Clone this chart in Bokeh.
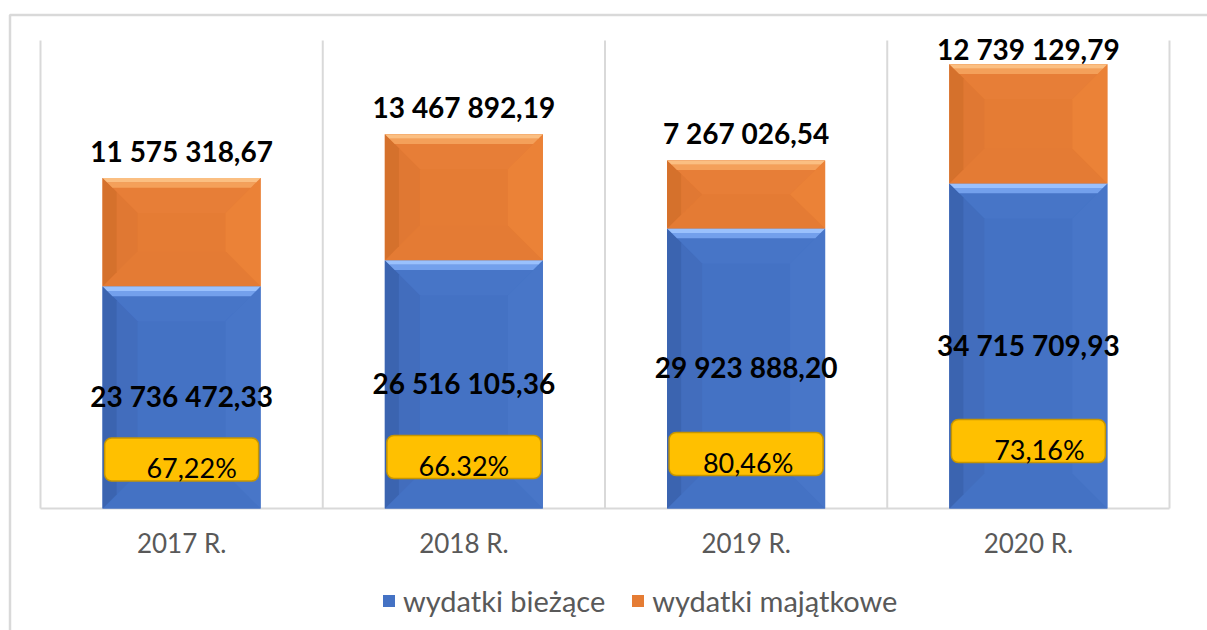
from bokeh.plotting import figure
from bokeh.models import Range1d, ColumnDataSource, Legend, LegendItem
from bokeh.embed import file_html
from bokeh.resources import INLINE
from bokeh.core.properties import value

# ---------------- data ----------------
years = ["2017 R.", "2018 R.", "2019 R.", "2020 R."]
wydatki_biezace = [23736472.33, 26516105.36, 29923888.20, 34715709.93]
wydatki_majatkowe = [11575318.67, 13467892.19, 7267026.54, 12739129.79]
biezace_labels = ["23 736 472,33", "26 516 105,36", "29 923 888,20", "34 715 709,93"]
majatkowe_labels = ["11 575 318,67", "13 467 892,19", "7 267 026,54", "12 739 129,79"]
pct_labels = ["67,22%", "66.32%", "80,46%", "73,16%"]
series_names = ["wydatki bieżące", "wydatki majątkowe"]

# ---------------- layout constants (pixels) ----------------
W, H = 1207, 630
L, R, T, B = 40, 1169, 40, 508      # inner plot area on the canvas
Y_MAX = 50_000_000
N = len(years)
PPU = (B - T) / Y_MAX               # px per data unit (y)
UPX = (R - L) / N                   # px per category (x)
BAR_W = 158 / UPX
BEVEL_PX = 35
FONT = value("Lato")
FIX = 0.4                            # baseline correction (fraction of font size)

# manually placed percentage boxes (px above baseline of box centre, text x shift)
pct_box_h_px = [49, 51.5, 54.5, 67.5]
pct_text_dx_px = [10, 0, 2, 11]


def dy(px):
    return px / PPU


def dx(px):
    return px / UPX


def ybase(page_y, fs):
    """data y for an alphabetic baseline at a page y position"""
    return (B - (page_y - FIX * fs)) / PPU


centers = [i + 0.5 for i in range(N)]

p = figure(width=W, height=H,
           x_range=Range1d(-L / UPX, N + (W - R) / UPX),
           y_range=Range1d(-(H - B) / PPU, Y_MAX + T / PPU),
           x_axis_location=None, y_axis_location=None,
           toolbar_location=None, output_backend="svg",
           min_border_left=0, min_border_right=0, min_border_top=0, min_border_bottom=0)
p.outline_line_color = None
p.background_fill_color = "white"
p.border_fill_color = "white"
p.xgrid.visible = False
p.ygrid.visible = False

# outer chart border (top / left, the rest is cropped)
ox = -(L - 9.5) / UPX
oy = Y_MAX + (T - 14.5) / PPU
p.line(x=[ox, ox, N + (W + 5 - R) / UPX], y=[-(H + 5 - B) / PPU, oy, oy],
       line_color="#d9d9d9", line_width=2.5)

# plot area border + vertical gridlines
grid_x = list(range(N + 1))
p.segment(x0=grid_x, x1=grid_x, y0=[0] * len(grid_x), y1=[Y_MAX] * len(grid_x),
          line_color="#d9d9d9", line_width=2)
p.segment(x0=[0], x1=[N], y0=[0], y1=[0], line_color="#d9d9d9", line_width=2)

# ---------------- bars ----------------
tops = [b + m for b, m in zip(wydatki_biezace, wydatki_majatkowe)]
src = ColumnDataSource(dict(x=centers, b=wydatki_biezace, t=tops))
r_blue = p.vbar(x="x", width=BAR_W, bottom=0, top="b", source=src,
                fill_color="#4472c4", line_color=None)
r_orange = p.vbar(x="x", width=BAR_W, bottom="b", top="t", source=src,
                  fill_color="#e57c34", line_color=None)

# bevel effect
styles = {
    "blue": dict(top="#4775c7", left="#426dbd", right="#4876c8", bottom="#4472c4",
                 strip1="#9ac1fd", strip2="#73a0ec", dark="#3b64b0"),
    "orange": dict(top="#e77e37", left="#e07833", right="#eb8237", bottom="#e47b34",
                   strip1="#fbbf82", strip2="#f4a05a", dark="#d5712c"),
}
xs, ys, cols = [], [], []


def add_bevel(x0, x1, y0, y1, st):
    bx = dx(BEVEL_PX)
    by = min(dy(BEVEL_PX), (y1 - y0) / 2)

    def rect(t):
        return x0 + t * bx, x1 - t * bx, y0 + t * by, y1 - t * by

    def side(name, ta, tb, col):
        La, Ra, Ba, Ta = rect(ta)
        Lb, Rb, Bb, Tb = rect(tb)
        if name == "top":
            pts = [(La, Ta), (Ra, Ta), (Rb, Tb), (Lb, Tb)]
        elif name == "bottom":
            pts = [(La, Ba), (Ra, Ba), (Rb, Bb), (Lb, Bb)]
        elif name == "left":
            pts = [(La, Ba), (La, Ta), (Lb, Tb), (Lb, Bb)]
        else:
            pts = [(Ra, Ba), (Ra, Ta), (Rb, Tb), (Rb, Bb)]
        xs.append([q[0] for q in pts])
        ys.append([q[1] for q in pts])
        cols.append(col)

    side("top", 0, 1, st["top"])
    side("bottom", 0, 1, st["bottom"])
    side("left", 0, 1, st["left"])
    side("right", 0, 1, st["right"])
    side("left", 0, 0.4, st["dark"])
    side("top", 0, 0.13, st["strip1"])
    side("top", 0.13, 0.28, st["strip2"])


for c, b, t in zip(centers, wydatki_biezace, tops):
    add_bevel(c - BAR_W / 2, c + BAR_W / 2, 0, b, styles["blue"])
    add_bevel(c - BAR_W / 2, c + BAR_W / 2, b, t, styles["orange"])

p.patches(xs="xs", ys="ys", fill_color="c", line_color=None,
          source=ColumnDataSource(dict(xs=xs, ys=ys, c=cols)))

# ---------------- labels ----------------
VAL_FS = 28
top_px = [B - t * PPU for t in tops]
lab_top_y = [ybase(max(tp - 16, T + 20), VAL_FS) for tp in top_px]
p.text(x=centers, y=lab_top_y, text=majatkowe_labels, text_font=FONT,
       text_font_style="bold", text_font_size=f"{VAL_FS}px", text_color="black",
       text_align="center", text_baseline="alphabetic")

lab_mid_y = [ybase(B - b * PPU / 2 + 10, VAL_FS) for b in wydatki_biezace]
p.text(x=centers, y=lab_mid_y, text=biezace_labels, text_font=FONT,
       text_font_style="bold", text_font_size=f"{VAL_FS}px", text_color="black",
       text_align="center", text_baseline="alphabetic")

# percentage boxes
PCT_FS = 27
p.quad(left=[c - dx(77) for c in centers], right=[c + dx(77) for c in centers],
       bottom=[dy(h - 21.5) for h in pct_box_h_px], top=[dy(h + 21.5) for h in pct_box_h_px],
       fill_color="#ffc000", line_color="#c69500", line_width=1.5, border_radius=7)
p.text(x=centers, y=[ybase(B - h + 19, PCT_FS) for h in pct_box_h_px], text=pct_labels,
       x_offset=pct_text_dx_px, text_font=FONT, text_font_size=f"{PCT_FS}px",
       text_color="black", text_align="center", text_baseline="alphabetic")

# category labels (x axis)
CAT_FS = 26
p.text(x=centers, y=[ybase(553, CAT_FS)] * N, text=years, text_font=FONT,
       text_font_size=f"{CAT_FS}px", text_color="#595959",
       text_align="center", text_baseline="alphabetic")

# ---------------- legend ----------------
legend = Legend(items=[LegendItem(label=series_names[0], renderers=[r_blue]),
                       LegendItem(label=series_names[1], renderers=[r_orange])],
                orientation="horizontal", location=(381, 12),
                label_text_font="Lato", label_text_font_size="29px",
                label_text_color="#595959", glyph_width=15, glyph_height=15,
                spacing=25, label_standoff=7, padding=0, margin=0,
                border_line_color=None, background_fill_alpha=0)
p.add_layout(legend, "center")

open("out.html", "w").write(file_html(p, INLINE))
